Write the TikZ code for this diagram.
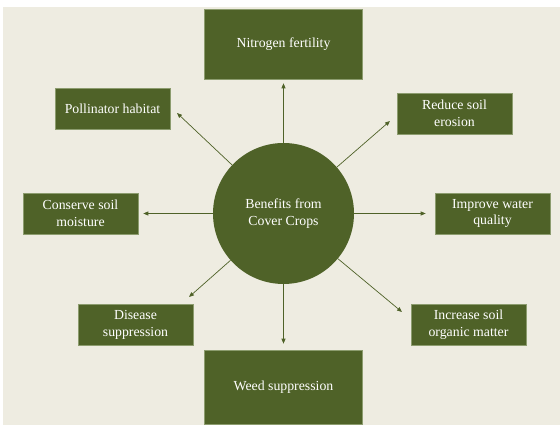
\documentclass[tikz,border=0pt]{standalone}
\usepackage{fontspec}
\setmainfont{Liberation Serif}
\usetikzlibrary{arrows.meta, positioning}
\definecolor{panelolive}{HTML}{4F6228}
\definecolor{edgeolive}{HTML}{8C9C6E}
\definecolor{bgtan}{HTML}{EEECE1}

\begin{document}
\begin{tikzpicture}[
  x=1pt, y=1pt,
  % small benefit boxes
  benefit/.style={draw=edgeolive, line width=0.6pt, fill=panelolive, text=white,
                  minimum width=115pt, minimum height=41pt, inner sep=0pt,
                  align=center, font=\fontsize{13.8}{16.6}\selectfont},
  % tall boxes above and below the hub
  bigbox/.style={benefit, minimum width=158pt, minimum height=#1},
  % central circle
  hubcirc/.style={circle, fill=panelolive, text=white, minimum size=141pt,
                  inner sep=0pt, align=center, font=\fontsize{13.8}{16.6}\selectfont},
  % arrows
  arr/.style={-{Triangle[length=5pt, width=4pt]}, panelolive, line width=0.7pt},
]

\useasboundingbox (0,0) rectangle (560,425);
\fill[bgtan] (3,0) rectangle (560,418);

% ── HUB ────────────────────────────────────────────
\node[hubcirc] (hub) at (283.5,211.5) {Benefits from\\Cover Crops};

% ── BENEFITS ───────────────────────────────────────
\node[bigbox=70pt] (nitro) at (283.5,381) {Nitrogen fertility};
\node[bigbox=74pt] (weed) at (283.5,38) {Weed suppression};
\node[benefit] (pollin) at (112.5,316.5) {Pollinator habitat};
\node[benefit] (erosion) at (454.5,311.5) {Reduce soil\\erosion};
\node[benefit] (moist) at (80.5,211.5) {Conserve soil\\moisture};
\node[benefit] (water) at (492.5,211.5) {Improve water\\quality};
\node[benefit] (disease) at (135.5,100) {Disease\\suppression};
\node[benefit] (organic) at (468.5,100) {Increase soil\\organic matter};

% free ends of the slanted arrows
\coordinate (tpol) at (177,312);
\coordinate (tero) at (390,304);
\coordinate (tdis) at (189,128);
\coordinate (torg) at (402,113);

% ── ARROWS ─────────────────────────────────────────
\foreach \b/\s in {nitro/4pt, weed/6pt, moist/5pt, water/9pt} {
  \draw[arr, shorten >=\s] (hub) -- (\b);
}
\foreach \t in {tpol, tero, tdis, torg} {
  \draw[arr] (hub) -- (\t);
}

\end{tikzpicture}
\end{document}
